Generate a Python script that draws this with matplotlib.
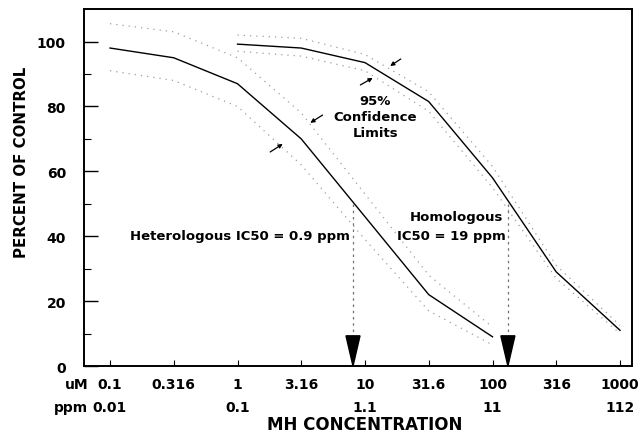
import numpy as np
import matplotlib
matplotlib.use("Agg")
import matplotlib.pyplot as plt

plt.rcParams['font.family'] = ['DejaVu Sans']
plt.rcParams['font.weight'] = 'bold'

# heterologous assay (uM, percent of control)
het_x = [0.1, 0.316, 1, 3.16, 10, 31.6, 100]
het_y = [98, 95, 87, 70, 46, 22, 9]
het_hi = [105.5, 103, 95, 78, 53, 28, 12]
het_lo = [91, 88, 80, 62, 39, 17, 6.5]

# homologous assay
hom_x = [1, 3.16, 10, 31.6, 100, 316, 1000]
hom_y = [99.2, 98, 93.5, 81.5, 58, 29, 11]
hom_hi = [102, 101, 96, 84.5, 61.5, 31, 12.5]
hom_lo = [97, 95.5, 91, 78.5, 55, 27, 10]

het_ic50 = 8.05   # uM
hom_ic50 = 132

um_ticks = [0.1, 0.316, 1, 3.16, 10, 31.6, 100, 316, 1000]
um_labels = ['0.1', '0.316', '1', '3.16', '10', '31.6', '100', '316', '1000']
ppm_ticks = [0.1, 1, 10, 100, 1000]
ppm_labels = ['0.01', '0.1', '1.1', '11', '112']

fig = plt.figure(figsize=(6.41, 4.39), dpi=100)
ax = fig.add_axes([0.131, 0.164, 0.855, 0.813])

band = dict(color='0.62', linestyle=(0, (1, 4)), linewidth=0.9)
ax.plot(het_x, het_hi, **band)
ax.plot(het_x, het_lo, **band)
ax.plot(hom_x, hom_hi, **band)
ax.plot(hom_x, hom_lo, **band)
ax.plot(het_x, het_y, color='black', linewidth=1.0)
ax.plot(hom_x, hom_y, color='black', linewidth=1.0)

# IC50 drop lines with big arrowheads
for xc in [het_ic50, hom_ic50]:
    ax.plot([xc, xc], [50, 9], color='0.45', linestyle=(0, (2, 3)), linewidth=0.9)
    hw = 10 ** 0.055
    ax.fill([xc / hw, xc * hw, xc], [9.3, 9.3, 0], color='black', zorder=5)

ax.set_xscale('log')
ax.set_xlim(0.0625, 1242)
ax.set_ylim(0, 110)

ax.set_yticks([0, 20, 40, 60, 80, 100])
ax.set_yticks([10, 30, 50, 70, 90], minor=True)
ax.tick_params(axis='y', which='major', direction='in', length=10, width=1.0,
               labelsize=10, pad=13)
ax.tick_params(axis='y', which='minor', direction='in', length=5, width=0.8)
ax.set_xticks(um_ticks)
ax.set_xticklabels([])
ax.xaxis.set_minor_locator(matplotlib.ticker.NullLocator())
ax.tick_params(axis='x', which='major', direction='in', length=4, width=0.8)

for s in ax.spines.values():
    s.set_linewidth(1.4)

trans = matplotlib.transforms.blended_transform_factory(ax.transData, ax.transAxes)
for xv, lab in zip(um_ticks, um_labels):
    ax.text(xv, -0.05, lab, transform=trans, ha='center', va='center', fontsize=10)
for xv, lab in zip(ppm_ticks, ppm_labels):
    ax.text(xv, -0.115, lab, transform=trans, ha='center', va='center', fontsize=10)
ax.text(0.008, -0.05, 'uM', transform=ax.transAxes, ha='right', va='center', fontsize=10)
ax.text(0.008, -0.115, 'ppm', transform=ax.transAxes, ha='right', va='center', fontsize=10)

fig.text(0.569, 0.032, 'MH CONCENTRATION', ha='center', va='center', fontsize=12)
fig.text(0.034, 0.631, 'PERCENT OF CONTROL', ha='center', va='center',
         rotation=90, fontsize=10.8)

ax.text(0.143, 40.3, 'Heterologous IC50 = 0.9 ppm', ha='left', va='center', fontsize=9.5)
ax.text(52, 46, 'Homologous', ha='center', va='center', fontsize=9.5)
ax.text(48, 40.3, 'IC50 = 19 ppm', ha='center', va='center', fontsize=9.5)
ax.text(12, 76.8, '95%\nConfidence\nLimits', ha='center', va='center',
        fontsize=9.5, linespacing=1.3)

arrow = dict(arrowstyle='-|>', color='black', lw=0.9, mutation_scale=6)
ax.annotate('', xy=(12, 89.2), xytext=(8.8, 86.2), arrowprops=arrow)
ax.annotate('', xy=(15.1, 92), xytext=(19.9, 95.1), arrowprops=arrow)
ax.annotate('', xy=(3.57, 74.5), xytext=(4.85, 77.8), arrowprops=arrow)
ax.annotate('', xy=(2.36, 68.9), xytext=(1.73, 65.5), arrowprops=arrow)

fig.savefig('out.png', dpi=100)
